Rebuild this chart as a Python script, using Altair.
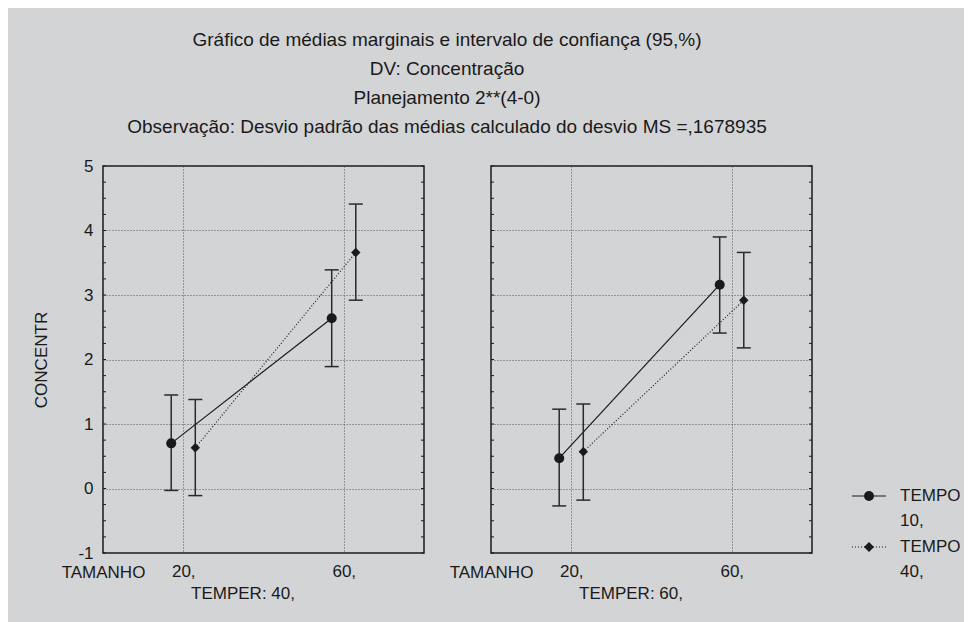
import altair as alt
import pandas as pd

# ---- data ----
temper = [40, 40, 40, 40, 60, 60, 60, 60]
tamanho = [20, 20, 60, 60, 20, 20, 60, 60]
tempo = ["10", "40", "10", "40", "10", "40", "10", "40"]
media = [0.70, 0.63, 2.64, 3.66, 0.47, 0.57, 3.16, 2.92]
ic_inf = [-0.03, -0.11, 1.89, 2.92, -0.27, -0.18, 2.41, 2.18]
ic_sup = [1.45, 1.38, 3.39, 4.41, 1.23, 1.31, 3.90, 3.66]

tempo_levels = ["10", "40"]
x_tick_values = [20, 60]
y_tick_values = [-1, 0, 1, 2, 3, 4, 5]
minor_ticks = [-1, -0.75, -0.5, -0.25, 0, 0.25, 0.5, 0.75, 1, 1.25, 1.5, 1.75,
               2, 2.25, 2.5, 2.75, 3, 3.25, 3.5, 3.75, 4, 4.25, 4.5, 4.75, 5]
title_lines = [
    "Gráfico de médias marginais e intervalo de confiança (95,%)",
    "DV: Concentração",
    "Planejamento 2**(4-0)",
    "Observação: Desvio padrão das médias calculado do desvio MS =,1678935",
]

df = pd.DataFrame({"temper": temper, "tamanho": tamanho, "tempo": tempo,
                   "media": media, "ic_inf": ic_inf, "ic_sup": ic_sup})
ticks_df = pd.DataFrame({"v": minor_ticks})
legend_df = pd.DataFrame({"tempo": tempo_levels})

W, H = 321, 387
INK = "#1a1a1a"
FONT = "Liberation Sans"
FS = 17
FRAME = alt.ViewBackground(stroke=INK, strokeWidth=1.5)


def make_panel(tp, show_y):
    x_enc = alt.X(
        "xpos:Q",
        scale=alt.Scale(domain=[0, 80], nice=False, zero=False),
        axis=alt.Axis(values=x_tick_values, labelExpr="datum.value + ','",
                      grid=True, gridDash=[1, 2], gridColor="#555", gridWidth=1,
                      ticks=False, domain=False, labelPadding=10,
                      labelFontSize=FS, labelFont=FONT, labelColor=INK,
                      title="TAMANHO", titleX=0, titleY=19, titleAngle=0,
                      titleAlign="center", titleBaseline="middle",
                      titleFontSize=FS, titleFont=FONT, titleFontWeight="normal",
                      titleColor=INK),
    )
    if show_y:
        y_axis = alt.Axis(values=y_tick_values, labelExpr="'' + datum.value",
                          grid=True, gridDash=[1, 2],
                          gridColor="#555", gridWidth=1, ticks=False, domain=False,
                          labelPadding=10, labelFontSize=FS, labelFont=FONT,
                          labelColor=INK, title="CONCENTR", titleX=-62,
                          titleY=H / 2, titleAngle=-90, titleAlign="center",
                          titleBaseline="middle", titleFontSize=FS, titleFont=FONT,
                          titleFontWeight="normal", titleColor=INK)
    else:
        y_axis = alt.Axis(values=y_tick_values, grid=True, gridDash=[1, 2],
                          gridColor="#555", gridWidth=1, ticks=False, domain=False,
                          labels=False, title=None)
    yscale = alt.Scale(domain=[-1, 5], nice=False, zero=False)

    def Y(field):
        return alt.Y(field + ":Q", scale=yscale, axis=y_axis)

    base = (alt.Chart(df)
            .transform_filter(alt.datum.temper == tp)
            .transform_calculate(xpos="datum.tamanho + (datum.tempo == '10' ? -3 : 3)"))

    layers = []
    tk = alt.Chart(ticks_df)
    layers.append(tk.mark_rule(color=INK, strokeWidth=1).encode(
        y=Y("v"), x=alt.value(0), x2=alt.value(3)))
    layers.append(tk.mark_rule(color=INK, strokeWidth=1).encode(
        y=Y("v"), x=alt.value(W - 3), x2=alt.value(W)))

    s10 = base.transform_filter(alt.datum.tempo == "10")
    s40 = base.transform_filter(alt.datum.tempo == "40")

    layers.append(s10.mark_line(color=INK, strokeWidth=1.2).encode(x=x_enc, y=Y("media")))
    layers.append(s40.mark_line(color=INK, strokeWidth=1.2, strokeDash=[1, 2]).encode(
        x=x_enc, y=Y("media")))
    layers.append(base.mark_rule(color="#2a2a2a", strokeWidth=1.5).encode(
        x=x_enc, y=Y("ic_inf"), y2="ic_sup:Q"))
    layers.append(base.mark_tick(color="#2a2a2a", orient="horizontal", size=14,
                                 thickness=1.5, opacity=1).encode(x=x_enc, y=Y("ic_inf")))
    layers.append(base.mark_tick(color="#2a2a2a", orient="horizontal", size=14,
                                 thickness=1.5, opacity=1).encode(x=x_enc, y=Y("ic_sup")))
    layers.append(s10.mark_point(shape="circle", filled=True, size=100, color=INK,
                                 opacity=1).encode(x=x_enc, y=Y("media")))
    layers.append(s40.mark_point(shape="diamond", filled=True, size=90, color=INK,
                                 opacity=1).encode(x=x_enc, y=Y("media")))

    return alt.layer(*layers).properties(
        width=W, height=H, view=FRAME,
        title=alt.TitleParams(text=f"TEMPER: {tp},", orient="bottom", anchor="start",
                              frame="group", align="center", dx=140, offset=6,
                              fontSize=FS, font=FONT, fontWeight="normal", color=INK),
    )


# ---- legend panel (built from the series categories) ----
ly = alt.Y("tempo:N", scale=alt.Scale(type="point", domain=tempo_levels,
                                      range=[330, 381], padding=0), axis=None)
lbase = alt.Chart(legend_df).transform_calculate(
    head="'TEMPO'", tail="datum.tempo + ','")
legend_panel = alt.layer(
    lbase.mark_rule(color=INK, strokeWidth=1.2).encode(
        x=alt.value(-27), x2=alt.value(7), y=ly,
        strokeDash=alt.StrokeDash("tempo:N", scale=alt.Scale(
            domain=tempo_levels, range=[[1, 0], [1, 2]]), legend=None)),
    lbase.mark_point(filled=True, color=INK, opacity=1, size=100).encode(
        x=alt.value(-10), y=ly,
        shape=alt.Shape("tempo:N", scale=alt.Scale(
            domain=tempo_levels, range=["circle", "diamond"]), legend=None)),
    lbase.mark_text(align="left", baseline="middle", fontSize=FS, font=FONT,
                    color=INK).encode(x=alt.value(21), y=ly, text="head:N"),
    lbase.mark_text(align="left", baseline="middle", fontSize=FS, font=FONT,
                    color=INK, dy=25).encode(x=alt.value(21), y=ly, text="tail:N"),
).properties(width=60, height=H,
             view=alt.ViewBackground(strokeWidth=0, stroke="transparent"))

chart = alt.hconcat(
    make_panel(40, True), make_panel(60, False), legend_panel,
    spacing=67, bounds="flush",
).properties(
    title=alt.TitleParams(text=title_lines, anchor="start", frame="group",
                          align="center", dx=344, fontSize=19,
                          font=FONT, fontWeight="normal",
                          lineHeight=29, offset=19, color=INK),
    autosize=alt.AutoSizeParams(type="none"),
    padding={"left": 95, "top": 158, "right": 861, "bottom": 448},
    background="#d3d4d6",
).configure_view(
    stroke=None
)

chart.save("out.html", embed_options={"renderer": "svg", "actions": False})
